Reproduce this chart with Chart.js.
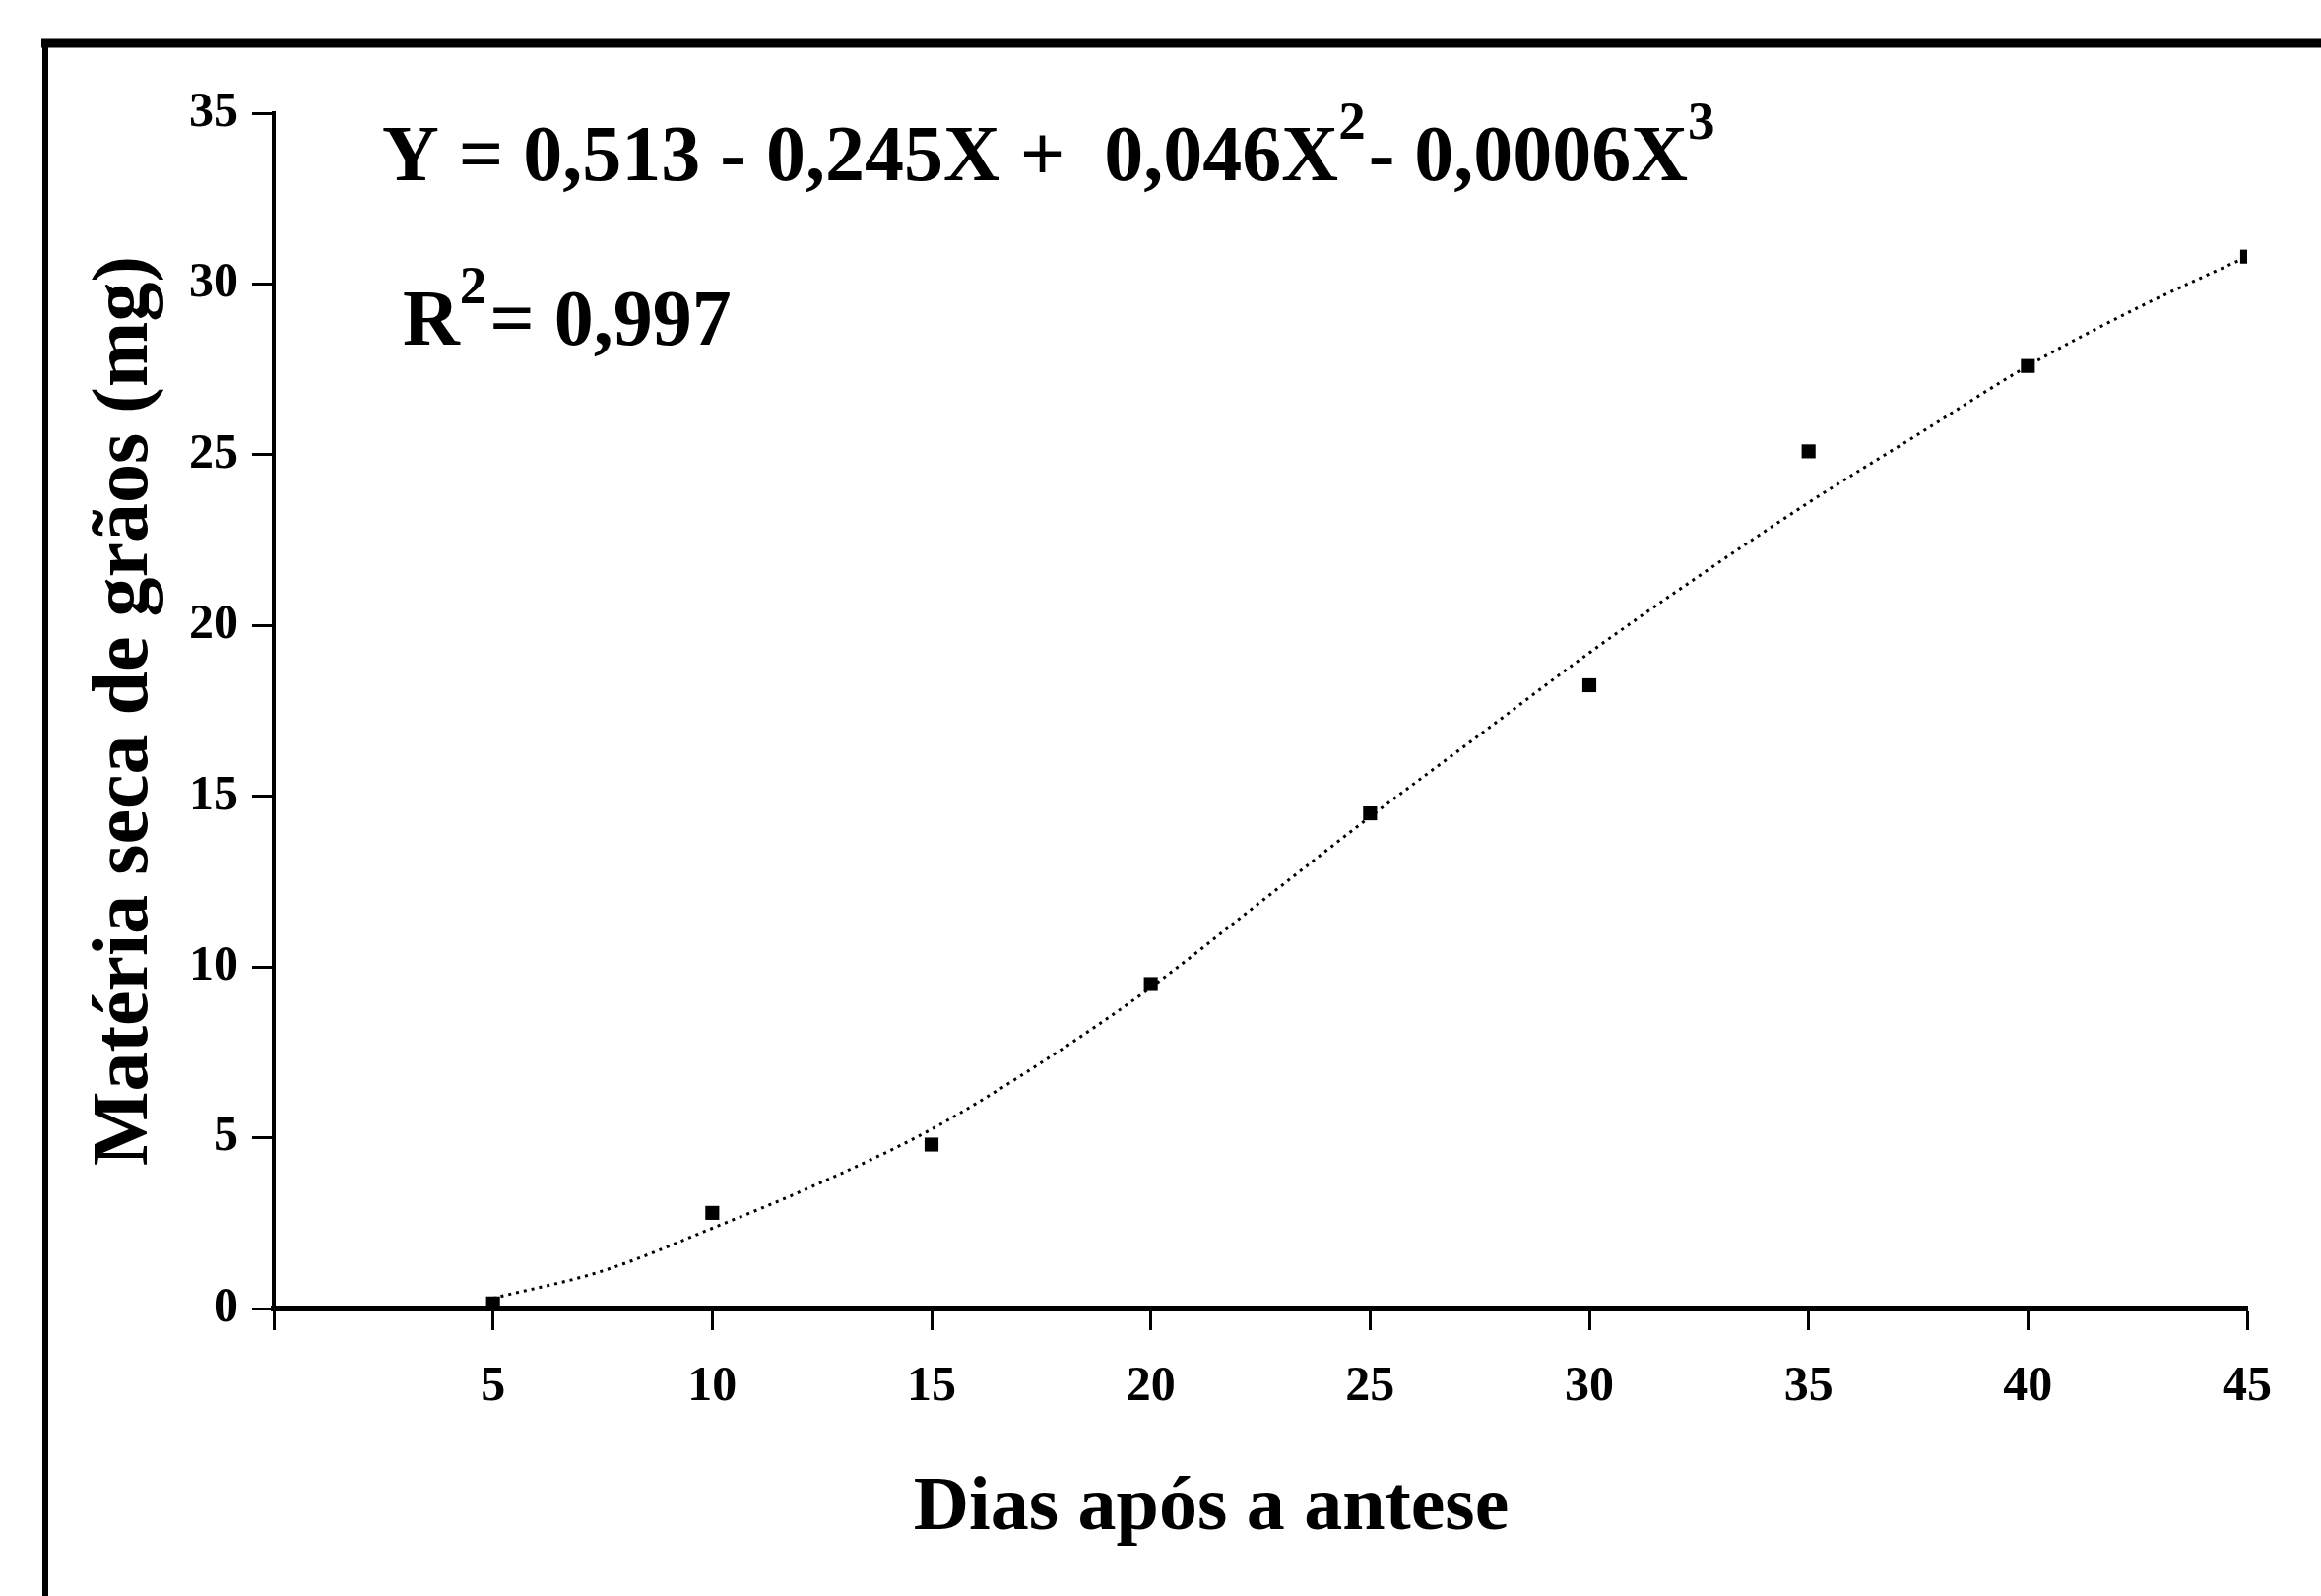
<!DOCTYPE html>
<html lang="pt">
<head>
<meta charset="utf-8">
<title>Matéria seca de grãos</title>
<script src="https://cdn.jsdelivr.net/npm/chart.js@4.4.1/dist/chart.umd.min.js"></script>
<style>
  html, body { margin: 0; padding: 0; background: #fff; }
  #wrap { width: 2357px; height: 1621px; position: relative; }
</style>
</head>
<body>
<div id="wrap"><canvas id="chart" width="2357" height="1621"></canvas></div>
<script>
// dados
const dias = [5, 10, 15, 20, 25, 30, 35, 40, 45];
const materiaSeca = [0.15, 2.8, 4.8, 9.5, 14.5, 18.25, 25.1, 27.6, 30.8];

// curva ajustada (lida ponto a ponto na figura)
const curvaX = [5, 7.5, 10, 12.5, 15, 17.5, 20, 22.5, 25, 27.5, 30, 32.5, 35, 37.5, 40, 42.5, 45];
const curvaY = [0.3, 1.1, 2.35, 3.7, 5.25, 7.2, 9.4, 11.9, 14.4, 16.8, 19.2, 21.45, 23.6, 25.6, 27.6, 29.3, 30.8];

const ticksY = [0, 5, 10, 15, 20, 25, 30, 35];
const ticksX = [0, 5, 10, 15, 20, 25, 30, 35, 40, 45];

const tituloX = 'Dias após a antese';
const tituloY = 'Matéria seca de grãos (mg)';
// equação: [texto, sobrescrito?]
const equacao = [['Y = 0,513 - 0,245X +  0,046X', false], ['2', true], ['- 0,0006X', false], ['3', true]];
const r2 = [['R', false], ['2', true], ['= 0,997', false]];

const FONTE = '"Liberation Serif", "Times New Roman", serif';

function escreve(ctx, partes, x, y) {
  ctx.textBaseline = 'alphabetic';
  ctx.textAlign = 'left';
  for (const [txt, sup] of partes) {
    ctx.font = sup ? `bold 55px ${FONTE}` : `bold 80px ${FONTE}`;
    ctx.fillText(txt, x, sup ? y - 42 : y);
    x += ctx.measureText(txt).width + (sup ? 3 : 0);
  }
}

const textos = {
  id: 'textos',
  afterDraw(chart) {
    const ctx = chart.ctx;
    ctx.save();
    ctx.fillStyle = '#000';
    // moldura
    ctx.strokeStyle = '#000';
    ctx.lineWidth = 9;
    ctx.beginPath();
    ctx.moveTo(42, 44);
    ctx.lineTo(2357, 44);
    ctx.stroke();
    ctx.lineWidth = 6;
    ctx.beginPath();
    ctx.moveTo(46, 40);
    ctx.lineTo(46, 1621);
    ctx.stroke();

    escreve(ctx, equacao, 388, 183);
    escreve(ctx, r2, 409, 350);

    ctx.font = `bold 78px ${FONTE}`;
    ctx.textAlign = 'center';
    ctx.fillText(tituloX, 1230, 1553);
    ctx.restore();
  }
};

new Chart(document.getElementById('chart'), {
  type: 'scatter',
  data: {
    datasets: [
      {
        data: dias.map((d, i) => ({ x: d, y: materiaSeca[i] })),
        pointStyle: 'rect',
        pointRadius: 10,
        backgroundColor: '#000',
        borderColor: '#000',
        borderWidth: 0,
        order: 0
      },
      {
        data: curvaX.map((d, i) => ({ x: d, y: curvaY[i] })),
        showLine: true,
        pointRadius: 0,
        borderColor: '#000',
        borderWidth: 3,
        borderDash: [3, 5],
        cubicInterpolationMode: 'monotone',
        order: 1
      }
    ]
  },
  options: {
    responsive: false,
    animation: false,
    events: [],
    layout: { padding: { left: 0, top: 115, right: 75, bottom: 0 } },
    plugins: { legend: { display: false }, tooltip: { enabled: false } },
    scales: {
      x: {
        type: 'linear',
        min: 0,
        max: 45,
        afterFit: s => { s.height = 292; },
        afterBuildTicks: s => { s.ticks = ticksX.map(v => ({ value: v })); },
        border: { display: true, color: '#000', width: 6 },
        grid: { drawOnChartArea: false, drawTicks: true, tickLength: 22, tickWidth: 3, tickColor: '#000' },
        ticks: {
          color: '#000',
          padding: 28,
          maxRotation: 0,
          font: { family: FONTE, size: 50, weight: 'bold' },
          callback: v => (v === 0 ? '' : v)
        }
      },
      y: {
        type: 'linear',
        min: 0,
        max: 35,
        afterFit: s => { s.width = 278; },
        afterBuildTicks: s => { s.ticks = ticksY.map(v => ({ value: v })); },
        border: { display: true, color: '#000', width: 4 },
        grid: { drawOnChartArea: false, drawTicks: true, tickLength: 22, tickWidth: 3, tickColor: '#000' },
        ticks: {
          color: '#000',
          padding: 14,
          font: { family: FONTE, size: 50, weight: 'bold' }
        },
        title: {
          display: true,
          text: tituloY,
          color: '#000',
          padding: { top: 80, bottom: 0 },
          font: { family: FONTE, size: 80, weight: 'bold' }
        }
      }
    }
  },
  plugins: [textos]
});
</script>
</body>
</html>
